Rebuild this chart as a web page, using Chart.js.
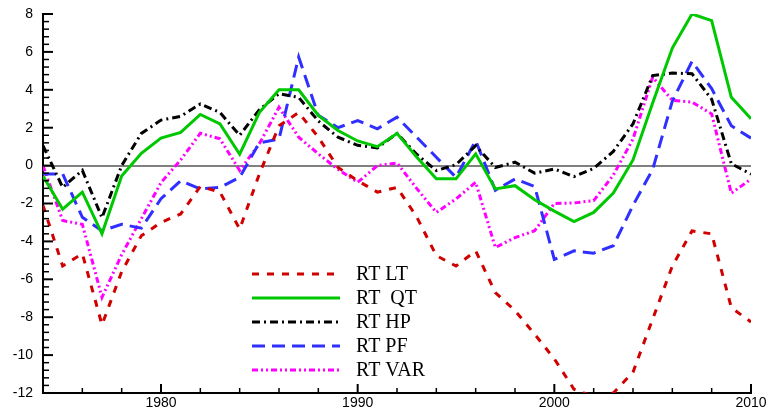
<!DOCTYPE html>
<html><head><meta charset="utf-8">
<script src="https://cdn.jsdelivr.net/npm/chart.js@4/dist/chart.umd.min.js"></script>
<style>html,body{margin:0;padding:0;background:#fff;overflow:hidden}</style>
</head><body>
<canvas id="c" width="766" height="415"></canvas>
<script>
const years = [1974,1975,1976,1977,1978,1979,1980,1981,1982,1983,1984,1985,1986,1987,1988,1989,1990,1991,1992,1993,1994,1995,1996,1997,1998,1999,2000,2001,2002,2003,2004,2005,2006,2007,2008,2009,2010];
const rtLT  = [-2.1,-5.3,-4.65,-8.4,-5.6,-3.7,-3.0,-2.55,-1.1,-1.4,-3.35,-0.45,2.1,2.8,1.5,-0.1,-0.8,-1.4,-1.15,-2.7,-4.75,-5.3,-4.5,-6.7,-7.65,-8.9,-10.2,-11.8,-12.2,-12.0,-10.9,-8.1,-5.3,-3.45,-3.6,-7.5,-8.25];
const rtQT  = [-0.55,-2.3,-1.4,-3.6,-0.55,0.65,1.45,1.75,2.7,2.2,0.6,2.8,4.0,4.0,2.65,1.85,1.3,1.0,1.7,0.45,-0.7,-0.7,0.62,-1.23,-1.06,-1.8,-2.4,-2.95,-2.47,-1.45,0.3,3.3,6.2,8.0,7.65,3.6,2.47];
const rtHP  = [1.05,-1.15,-0.25,-2.75,0.0,1.7,2.4,2.6,3.25,2.8,1.6,2.95,3.8,3.6,2.35,1.5,1.07,0.93,1.7,0.6,-0.26,0.05,1.05,-0.1,0.18,-0.4,-0.18,-0.58,-0.15,0.75,2.2,4.75,4.88,4.85,3.5,0.1,-0.45];
const rtPF  = [-0.44,-0.44,-2.73,-3.44,-3.1,-3.3,-1.75,-0.8,-1.23,-1.15,-0.62,1.2,1.4,5.73,2.65,2.0,2.38,1.94,2.56,1.5,0.44,-0.62,1.32,-1.3,-0.71,-1.1,-4.95,-4.5,-4.62,-4.23,-2.1,-0.2,3.4,5.5,4.06,2.1,1.45];
const rtVAR = [0.0,-2.9,-3.1,-6.95,-4.7,-2.8,-0.9,0.3,1.71,1.41,-0.26,1.15,3.08,1.5,0.62,-0.2,-0.88,0.0,0.14,-1.2,-2.47,-1.76,-0.88,-4.32,-3.8,-3.44,-2.0,-1.97,-1.85,-0.5,1.4,4.67,3.44,3.35,2.73,-1.46,-0.71];
const seriesNames = ['RT LT','RT  QT','RT HP','RT PF','RT VAR'];
const yTickValues = [-12,-10,-8,-6,-4,-2,0,2,4,6,8];
const xTickValues = [1980,1990,2000,2010];

const toXY = arr => arr.map((v,i)=>({x:years[i], y:v}));
const styles = [
  {color:'#d00000', dash:[7,8], width:3},
  {color:'#00c800', dash:[], width:3},
  {color:'#000000', dash:[8,4,2,4], width:3},
  {color:'#2f2fff', dash:[13,7], width:3},
  {color:'#ff00ff', dash:[6,3,2,3,2,3], width:3}
];
const values = [rtLT, rtQT, rtHP, rtPF, rtVAR];
const datasets = values.map((arr,i)=>({
  label: seriesNames[i], data: toXY(arr),
  borderColor: styles[i].color, borderDash: styles[i].dash, borderWidth: styles[i].width,
  pointRadius: 0, tension: 0, fill: false, borderCapStyle: 'butt', borderJoinStyle: 'miter'
}));

const tickPlugin = {
  id: 'innerTicks',
  afterDraw(chart) {
    const ctx = chart.ctx, ys = chart.scales.y, xs = chart.scales.x;
    const {left, bottom} = chart.chartArea;
    ctx.save();
    ctx.strokeStyle = '#000';
    for (let i = 0; i <= 50; i++) {
      const v = ys.min + i * 0.4;
      const major = i % 5 === 0;
      const py = ys.getPixelForValue(v);
      ctx.lineWidth = major ? 2 : 1.5;
      ctx.beginPath(); ctx.moveTo(left, py); ctx.lineTo(left + (major ? 10 : 6), py); ctx.stroke();
    }
    for (let yr = xs.min; yr <= xs.max; yr += 2) {
      const major = yr % 10 === 0;
      const px = xs.getPixelForValue(yr);
      ctx.lineWidth = major ? 2 : 1.5;
      ctx.beginPath(); ctx.moveTo(px, bottom); ctx.lineTo(px, bottom - (major ? 9 : 5)); ctx.stroke();
    }
    ctx.restore();
  }
};

const legendPlugin = {
  id: 'innerLegend',
  afterDatasetsDraw(chart) {
    const ctx = chart.ctx;
    ctx.save();
    chart.data.datasets.forEach((ds, i) => {
      const y = 274 + i * 24;
      ctx.strokeStyle = ds.borderColor; ctx.lineWidth = ds.borderWidth;
      ctx.setLineDash(ds.borderDash); ctx.lineCap = 'butt';
      ctx.beginPath(); ctx.moveTo(252, y); ctx.lineTo(340, y); ctx.stroke();
      ctx.setLineDash([]);
      ctx.fillStyle = '#000'; ctx.font = '20px "Liberation Serif", "Times New Roman", serif';
      ctx.textBaseline = 'middle'; ctx.textAlign = 'left';
      ctx.fillText(ds.label, 356, y + 1);
    });
    ctx.restore();
  }
};

new Chart(document.getElementById('c'), {
  type: 'line',
  data: { datasets },
  options: {
    responsive: false, animation: false,
    layout: { autoPadding: false, padding: { top: 14, right: 15, left: 0, bottom: 0 } },
    plugins: { legend: { display: false }, tooltip: { enabled: false } },
    scales: {
      x: {
        type: 'linear', min: 1974, max: 2010,
        afterBuildTicks: s => { s.ticks = xTickValues.map(v => ({value: v})); },
        afterFit: s => { s.height = 22; s.paddingLeft = 0; s.paddingRight = 0; },
        ticks: { callback: v => String(v), color: '#000', padding: 2, maxRotation: 0, autoSkip: false,
                 font: { family: '"Liberation Sans", Arial, sans-serif', size: 14 } },
        grid: { display: false, drawTicks: false },
        border: { display: true, color: '#000', width: 2 }
      },
      y: {
        type: 'linear', min: -12, max: 8,
        afterBuildTicks: s => { s.ticks = yTickValues.map(v => ({value: v})); },
        afterFit: s => { s.width = 43; s.paddingTop = 0; s.paddingBottom = 0; },
        ticks: { color: '#000', padding: 10, autoSkip: false,
                 font: { family: '"Liberation Sans", Arial, sans-serif', size: 14 } },
        grid: { drawTicks: false, lineWidth: 2,
                color: c => (c.tick && c.tick.value === 0) ? '#808080' : 'rgba(0,0,0,0)' },
        border: { display: true, color: '#000', width: 2 }
      }
    }
  },
  plugins: [tickPlugin, legendPlugin]
});
</script>
</body></html>
